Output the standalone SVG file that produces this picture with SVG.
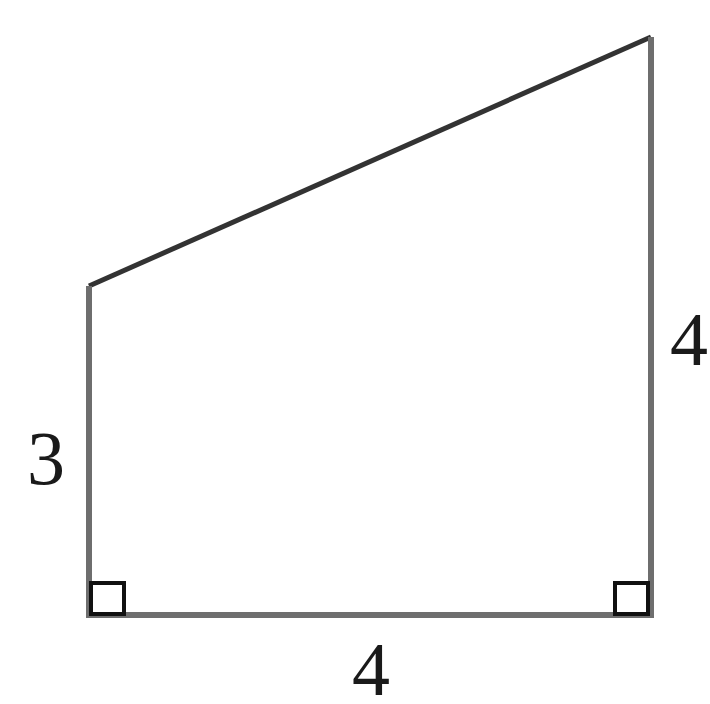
<svg xmlns="http://www.w3.org/2000/svg" width="710" height="704" viewBox="0 0 710 704">
<style>
.edge{fill:none;stroke:#6e6e6e;stroke-width:6;stroke-linejoin:miter}
.top{fill:none;stroke:#333;stroke-width:5}
.ra{fill:none;stroke:#111;stroke-width:4}
.lbl{font-family:"Liberation Serif","Times New Roman",serif;font-size:76px;fill:#1a1a1a;text-anchor:middle}
</style>
<rect width="710" height="704" fill="#fff"/>
<g id="connectors">
<line class="top" x1="89" y1="286" x2="651" y2="37"/>
<polyline class="edge" points="89,286 89,615 651,615 651,37"/>
</g>
<g id="right-angle-left"><rect class="ra" x="91" y="583" width="33" height="31"/></g>
<g id="right-angle-right"><rect class="ra" x="615" y="583" width="33" height="31"/></g>
<g id="label-left"><text class="lbl" x="46" y="484">3</text></g>
<g id="label-right"><text class="lbl" x="689" y="365">4</text></g>
<g id="label-bottom"><text class="lbl" x="371" y="695">4</text></g>
</svg>
